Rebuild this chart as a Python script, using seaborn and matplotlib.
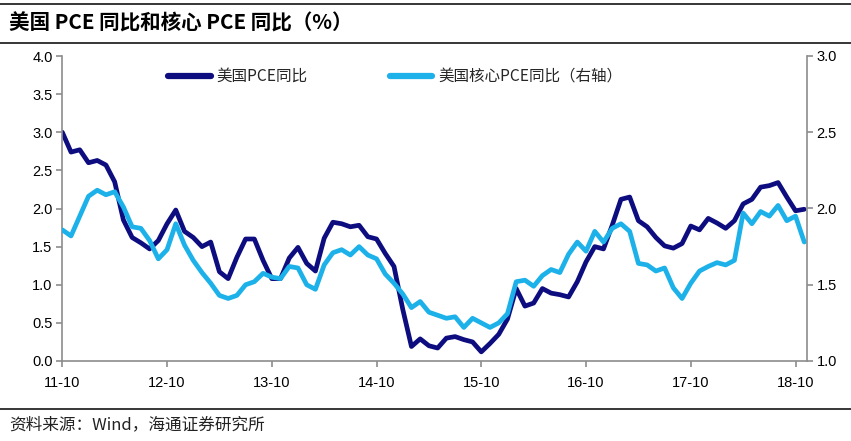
import numpy as np
import pandas as pd
import matplotlib
matplotlib.use("Agg")
import matplotlib.pyplot as plt
from matplotlib.lines import Line2D
import seaborn as sns

# ---- data ----
tick_labels = ["11-10", "12-10", "13-10", "14-10", "15-10", "16-10", "17-10", "18-10"]

pce_yoy = [3.00, 2.74, 2.77, 2.60, 2.63, 2.57, 2.35, 1.85, 1.62, 1.55,
           1.47, 1.58, 1.80, 1.98, 1.70, 1.62, 1.50, 1.56, 1.17, 1.08,
           1.36, 1.60, 1.60, 1.32, 1.08, 1.08, 1.35, 1.49, 1.28, 1.18,
           1.61, 1.82, 1.80, 1.76, 1.78, 1.63, 1.60, 1.41, 1.24, 0.68,
           0.19, 0.29, 0.20, 0.17, 0.30, 0.32, 0.28, 0.25, 0.12, 0.23,
           0.35, 0.55, 0.95, 0.72, 0.76, 0.95, 0.89, 0.87, 0.84, 1.04,
           1.30, 1.50, 1.47, 1.78, 2.12, 2.15, 1.84, 1.76, 1.62, 1.51,
           1.48, 1.54, 1.77, 1.72, 1.87, 1.81, 1.74, 1.84, 2.06, 2.12,
           2.28, 2.30, 2.34, 2.15, 1.97, 1.99]

core_pce_yoy = [1.86, 1.82, 1.95, 2.08, 2.12, 2.09, 2.11, 2.01, 1.88, 1.87,
                1.79, 1.67, 1.73, 1.90, 1.76, 1.66, 1.58, 1.51, 1.43, 1.41,
                1.43, 1.50, 1.52, 1.575, 1.55, 1.54, 1.62, 1.61, 1.50, 1.47,
                1.63, 1.71, 1.73, 1.695, 1.75, 1.695, 1.67, 1.57, 1.51, 1.44,
                1.35, 1.39, 1.32, 1.30, 1.28, 1.29, 1.22, 1.28, 1.25, 1.22,
                1.25, 1.31, 1.52, 1.53, 1.49, 1.56, 1.60, 1.58, 1.70, 1.78,
                1.72, 1.85, 1.78, 1.87, 1.90, 1.85, 1.64, 1.63, 1.59, 1.61,
                1.48, 1.41, 1.51, 1.59, 1.62, 1.645, 1.63, 1.66, 1.97, 1.90,
                1.98, 1.95, 2.02, 1.92, 1.95, 1.78]

series_names = ["美国PCE同比", "美国核心PCE同比（右轴）"]
title = "美国 PCE 同比和核心 PCE 同比（%）"
source = "资料来源：Wind，海通证券研究所"

df = pd.DataFrame({"t": np.arange(len(pce_yoy)), "pce": pce_yoy, "core": core_pce_yoy})

# ---- style ----
sns.set_style("white")
plt.rcParams["font.family"] = ["Liberation Sans", "Noto Sans CJK SC", "DejaVu Sans"]
plt.rcParams["lines.solid_joinstyle"] = "round"
plt.rcParams["lines.solid_capstyle"] = "round"

DARK = "#0d0d80"
LIGHT = "#1db1ea"
AXC = "#8c8c8c"
CJK = ["Noto Sans CJK SC", "DejaVu Sans"]

fig = plt.figure(figsize=(8.51, 4.41), dpi=100)
ax = fig.add_axes([62.3 / 851, 1 - 361 / 441, (806.7 - 62.3) / 851, (361 - 56) / 441])
ax2 = ax.twinx()

sns.lineplot(data=df, x="t", y="pce", ax=ax, color=DARK, linewidth=3.4, legend=False)
sns.lineplot(data=df, x="t", y="core", ax=ax2, color=LIGHT, linewidth=3.4, legend=False)

ax.set_xlim(0, 85.28)
ax.set_ylim(0, 4.0)
ax2.set_ylim(1.0, 3.0)
ax.set_yticks(np.arange(0, 4.01, 0.5))
ax2.set_yticks(np.arange(1.0, 3.01, 0.5))
ax.set_yticklabels([f"{v:.1f}" for v in np.arange(0, 4.01, 0.5)])
ax2.set_yticklabels([f"{v:.1f}" for v in np.arange(1.0, 3.01, 0.5)])
ax.set_xticks(np.arange(0, 12 * len(tick_labels), 12))
ax.set_xticklabels(tick_labels)
ax.set_xlabel("")
ax.set_ylabel("")
ax2.set_ylabel("")

for a in (ax, ax2):
    a.spines["top"].set_visible(False)
    for s in ("left", "right", "bottom"):
        a.spines[s].set_color(AXC)
        a.spines[s].set_linewidth(1.2)
    a.tick_params(axis="both", which="major", direction="out", length=4, width=1.2,
                  color=AXC, labelsize=10.5, labelcolor="black", pad=3)
ax.spines["right"].set_visible(False)
ax2.spines["left"].set_visible(False)
ax2.spines["bottom"].set_visible(False)
ax.tick_params(axis="y", left=True, right=False)
ax.tick_params(axis="x", bottom=True, pad=7)
ax2.tick_params(axis="y", right=True, left=False)
ax.grid(False)
ax2.grid(False)

handles = [Line2D([], [], color=DARK, linewidth=4.5, solid_capstyle="round"),
           Line2D([], [], color=LIGHT, linewidth=4.5, solid_capstyle="round")]
leg = ax2.legend(handles, series_names, loc="upper left", bbox_to_anchor=(0.142, 0.96),
                 ncol=2, frameon=False, borderpad=0, borderaxespad=0,
                 handlelength=2.75, handletextpad=0.35, columnspacing=5.3,
                 prop={"family": CJK, "size": 11.2})

# ---- title, rules and source ----
fig.text(9 / 851, 1 - 23 / 441, title, ha="left", va="center", fontsize=14.8,
         fontweight="bold", family=CJK, color="black")
for yy in (3.5, 42.5, 408.5):
    fig.add_artist(Line2D([0, 1], [1 - yy / 441, 1 - yy / 441], transform=fig.transFigure,
                          color="black", linewidth=1.1))
fig.text(9 / 851, 1 - 425 / 441, source, ha="left", va="center", fontsize=12,
         family=CJK, color="#222222")

fig.savefig("out.png", dpi=100)
